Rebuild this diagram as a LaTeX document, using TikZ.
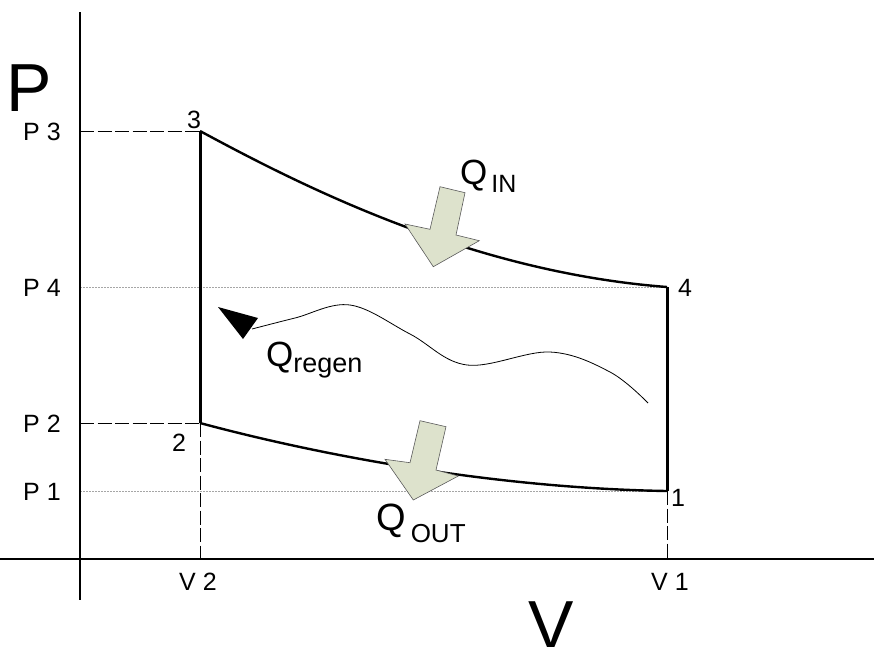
\documentclass[tikz,border=0pt]{standalone}
\usepackage{fontspec}
\setmainfont{Liberation Sans}
\definecolor{arrfill}{RGB}{221,226,204}
\definecolor{arredge}{RGB}{90,90,90}
\newcommand{\fs}[1]{\fontsize{#1}{#1}\selectfont}
\newcommand{\smallfnt}{\fontsize{25}{27}\selectfont}
\newcommand{\numfnt}{\fontsize{25}{27}\selectfont}
\newcommand{\bigfnt}{\fontsize{68}{70}\selectfont}
\begin{document}
\begin{tikzpicture}[x=1pt,y=-1pt,
  axis/.style={line width=2.6pt},
  cyc/.style={line width=2.4pt},
  side/.style={line width=3pt},
  dashguide/.style={line width=0.9pt,dash pattern=on 14pt off 3.5pt},
  dotguide/.style={line width=0.9pt,gray!70,dash pattern=on 2pt off 1pt},
  blockarrow/.style={fill=arrfill,draw=arredge,line width=0.6pt,line join=miter},
  lbl/.style={inner sep=0pt,font=\smallfnt},
  numlbl/.style={inner sep=0pt,font=\numfnt},
  biglbl/.style={inner sep=0pt,font=\bigfnt}]
\useasboundingbox (0,0) rectangle (874,646);
% state points
\coordinate (s3) at (200,131);
\coordinate (s2) at (200,423);
\coordinate (s4) at (667,287);
\coordinate (s1) at (667,491);
% axis points
\coordinate (ay3) at (80,131);
\coordinate (ay4) at (80,287);
\coordinate (ay2) at (80,423);
\coordinate (ay1) at (80,491);
\coordinate (ax2) at (200,559);
\coordinate (ax1) at (667,559);
\coordinate (ytop) at (80,12);
\coordinate (ybot) at (80,600);
\coordinate (xl) at (0,559);
\coordinate (xr) at (874,559);
% guides
\draw[dashguide] (ay3) -- (s3);
\draw[dashguide] (ay2) -- (s2);
\draw[dotguide] (ay4) -- (s4);
\draw[dotguide] (ay1) -- (s1);
\draw[dashguide] (s2) -- (ax2);
\draw[dashguide] (s1) -- (ax1);
% axes
\draw[axis] (ytop) -- (ybot);
\draw[axis] (xl) -- (xr);
% cycle
\draw[side] (s3) -- (s2);
\draw[side] (s4) -- (s1);
\draw[cyc] (s3) .. controls (300,185) and (470,272) .. (s4);
\draw[cyc] (s2) .. controls (300,450) and (480,488) .. (s1);
% heat arrows
\draw[blockarrow] (440,186.7) -- (465,192.7) -- (456,235) -- (479.3,240.7) -- (433.3,266.7) -- (405,224) -- (430,229.3) -- cycle;
\draw[blockarrow] (420,420.7) -- (446,426.7) -- (436,470) -- (458.3,476) -- (413.3,500) -- (385,459.3) -- (410,462.7) -- cycle;
% regen wave
\draw[line width=0.8pt] plot[smooth,tension=0.6] coordinates {(252,329) (295,318) (350,305) (410,334) (467,365) (550,352) (610,372) (648,403)};
\fill (218,307) -- (258,318) -- (243,339) -- cycle;
% labels
\node[biglbl,anchor=base,text depth=0pt] (Plab) at (29,111) {P};
\node[biglbl,anchor=base] (Vlab) at (551,648) {V};
\node[lbl,anchor=base] (p3) at (42,140) {P 3};
\node[lbl,anchor=base] (p4) at (42,296) {P 4};
\node[lbl,anchor=base] (p2) at (42,432) {P 2};
\node[lbl,anchor=base] (p1) at (42,500) {P 1};
\node[lbl,anchor=base] (v2) at (198,590) {V 2};
\node[lbl,anchor=base] (v1) at (670,590) {V 1};
\node[numlbl,anchor=base] (n3) at (194,128) {3};
\node[numlbl,anchor=base] (n2) at (179,451) {2};
\node[numlbl,anchor=base] (n4) at (685,296) {4};
\node[numlbl,anchor=base] (n1) at (678,506) {1};
\node[inner sep=0pt,anchor=base west] (qin) at (460,184) {\fs{35}Q\kern4pt\raisebox{-8.5pt}{\fs{25}IN}};
\node[inner sep=0pt,anchor=base west] (qout) at (376,530) {\fs{38}Q\kern5pt\raisebox{-12.5pt}{\fs{26}OUT}};
\node[inner sep=0pt,anchor=base west] (qreg) at (266,366) {\fs{35}Q\raisebox{-6pt}{\fs{27}regen}};
\end{tikzpicture}
\end{document}
